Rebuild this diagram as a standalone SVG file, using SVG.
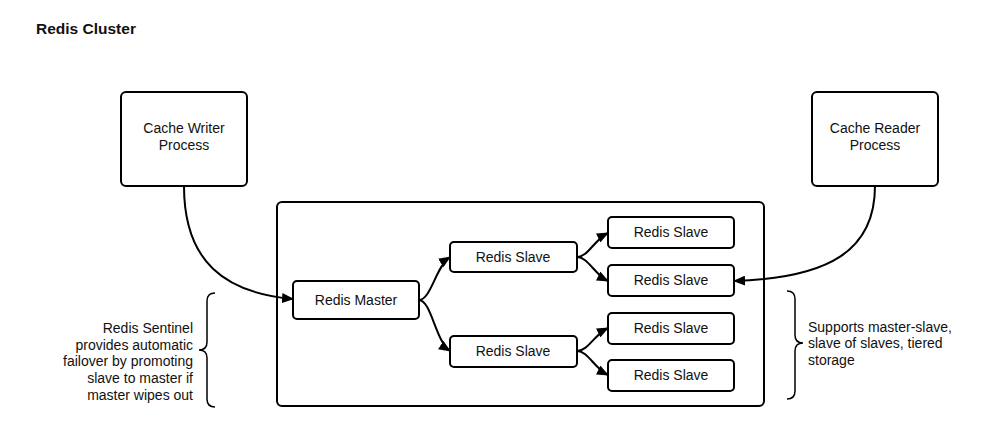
<svg xmlns="http://www.w3.org/2000/svg" width="1001" height="438" viewBox="0 0 1001 438">
<style>
.box{fill:#fff;stroke:#000;stroke-width:2}
.t{font-family:"Liberation Sans",Arial,sans-serif;font-size:14px;fill:#111;text-anchor:middle}
.n{font-family:"Liberation Sans",Arial,sans-serif;font-size:14px;fill:#111}
.c{fill:none;stroke:#000;stroke-width:2}
.br{fill:none;stroke:#000;stroke-width:1.5}
</style>
<defs>
<marker id="ah" markerWidth="12" markerHeight="10" refX="11" refY="5" orient="auto" markerUnits="userSpaceOnUse">
<path d="M0,0 L12,5 L0,10 Z" fill="#000"/>
</marker>
</defs>
<rect width="1001" height="438" fill="#fff"/>
<text x="36" y="34" style="font-family:'Liberation Sans',Arial,sans-serif;font-size:15.5px;font-weight:bold;fill:#111">Redis Cluster</text>

<g id="container"><rect class="box" x="277" y="202" width="487" height="204" rx="5"/></g>

<g id="writer"><rect class="box" x="121" y="92" width="126" height="94" rx="5"/>
<text class="t" x="184" y="133">Cache Writer</text><text class="t" x="184" y="150">Process</text></g>
<g id="reader"><rect class="box" x="812" y="92" width="126" height="94" rx="5"/>
<text class="t" x="875" y="133">Cache Reader</text><text class="t" x="875" y="150">Process</text></g>

<g id="master"><rect class="box" x="293" y="281" width="126" height="38" rx="4"/><text class="t" x="356" y="305">Redis Master</text></g>
<g id="slaveA"><rect class="box" x="450" y="242" width="127" height="30" rx="4"/><text class="t" x="513" y="262">Redis Slave</text></g>
<g id="slaveB"><rect class="box" x="450" y="336" width="127" height="31" rx="4"/><text class="t" x="513" y="356">Redis Slave</text></g>
<g id="slaveA1"><rect class="box" x="608" y="217" width="126" height="31" rx="4"/><text class="t" x="671" y="237">Redis Slave</text></g>
<g id="slaveA2"><rect class="box" x="608" y="265" width="126" height="31" rx="4"/><text class="t" x="671" y="285">Redis Slave</text></g>
<g id="slaveB1"><rect class="box" x="608" y="313" width="126" height="31" rx="4"/><text class="t" x="671" y="333">Redis Slave</text></g>
<g id="slaveB2"><rect class="box" x="608" y="360" width="126" height="31" rx="4"/><text class="t" x="671" y="380">Redis Slave</text></g>

<g id="connectors">
<path class="c" d="M184,186 C184,262 225,293 293,299" marker-end="url(#ah)"/>
<path class="c" d="M875,186 C875,250 830,278 734,281" marker-end="url(#ah)"/>
<path class="c" d="M419,300 C431,300 436,266 450,257" marker-end="url(#ah)"/>
<path class="c" d="M419,300 C431,300 436,342 450,351" marker-end="url(#ah)"/>
<path class="c" d="M577,257 C588,257 594,240 608,233" marker-end="url(#ah)"/>
<path class="c" d="M577,257 C588,257 594,274 608,281" marker-end="url(#ah)"/>
<path class="c" d="M577,351 C588,351 594,335 608,328" marker-end="url(#ah)"/>
<path class="c" d="M577,351 C588,351 594,368 608,375" marker-end="url(#ah)"/>
</g>

<g id="sentinel-note">
<path class="br" d="M215,293 Q207,293 207,301 L207,342 Q207,350 199,350 Q207,350 207,358 L207,399 Q207,407 215,407"/>
<text class="n" text-anchor="end" x="193" y="333">Redis Sentinel</text>
<text class="n" text-anchor="end" x="193" y="350">provides automatic</text>
<text class="n" text-anchor="end" x="193" y="366">failover by promoting</text>
<text class="n" text-anchor="end" x="193" y="383">slave to master if</text>
<text class="n" text-anchor="end" x="193" y="400">master wipes out</text>
</g>
<g id="support-note">
<path class="br" d="M787,291 Q795,291 795,299 L795,335 Q795,343 803,343 Q795,343 795,351 L795,391 Q795,399 787,399"/>
<text class="n" x="808" y="332">Supports master-slave,</text>
<text class="n" x="808" y="348">slave of slaves, tiered</text>
<text class="n" x="808" y="365">storage</text>
</g>
</svg>
